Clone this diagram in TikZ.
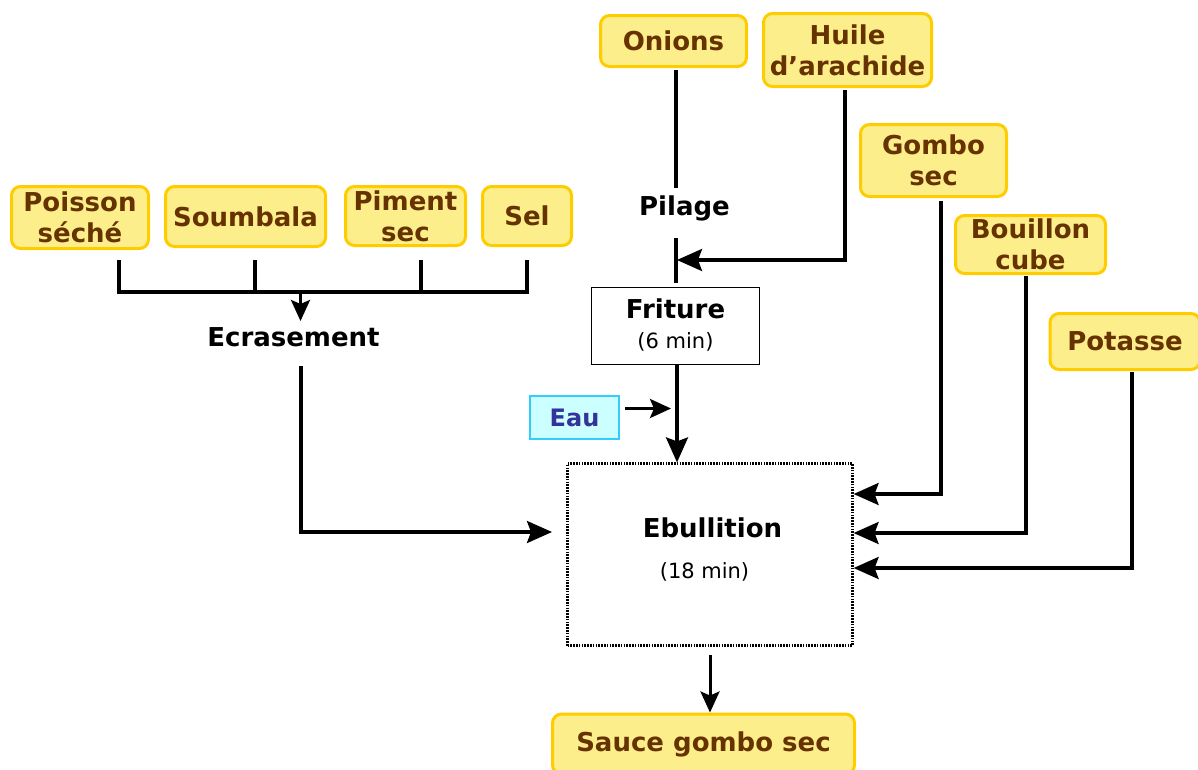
\documentclass[tikz,border=0pt]{standalone}
\usepackage{fontspec}
\setmainfont{DejaVu Sans}
\usetikzlibrary{arrows.meta}
\definecolor{ingfill}{HTML}{FDEE8C}
\definecolor{ingborder}{HTML}{FFCC00}
\definecolor{ingtext}{HTML}{663300}
\definecolor{waterfill}{HTML}{CCFFFF}
\definecolor{waterborder}{HTML}{33CCFF}
\definecolor{watertext}{HTML}{333399}
\begin{document}
\begin{tikzpicture}[x=1pt,y=-1pt,
  ingredient/.style={draw=ingborder, fill=ingfill, line width=3pt, rounded corners=9pt,
    text=ingtext, font=\fontsize{26}{31}\selectfont\bfseries, align=center, inner sep=0pt},
  water/.style={draw=waterborder, fill=waterfill, line width=2.5pt,
    text=watertext, font=\fontsize{24}{28}\selectfont\bfseries, inner sep=0pt},
  stepname/.style={font=\fontsize{26}{31}\selectfont\bfseries, inner sep=0pt},
  steptime/.style={font=\fontsize{21}{25}\selectfont, inner sep=0pt},
  flow/.style={line width=3.2pt},
  arr/.style={flow, -{Stealth[length=25pt,width=22pt,inset=4pt]}},
  smallarr/.style={line width=3pt, -{Stealth[length=21pt,width=19pt,inset=4pt]}}
]
\useasboundingbox (0,0) rectangle (1198,769);

% ingredients
\node[ingredient, minimum width=137, minimum height=62] (poisson) at (80,217.5) {Poisson\\séché};
\node[ingredient, minimum width=160, minimum height=60] (soumbala) at (245.5,216.5) {Soumbala};
\node[ingredient, minimum width=120, minimum height=59] (piment) at (405.5,216) {Piment\\sec};
\node[ingredient, minimum width=89, minimum height=59] (sel) at (527,216) {Sel};
\node[ingredient, minimum width=146, minimum height=51] (onions) at (673.5,41) {Onions};
\node[ingredient, minimum width=168, minimum height=73] (huile) at (847.5,50) {Huile\\d’arachide};
\node[ingredient, minimum width=146, minimum height=72] (gombo) at (933.5,160.5) {Gombo\\sec};
\node[ingredient, minimum width=150, minimum height=58] (bouillon) at (1030.5,244.5) {Bouillon\\cube};
\node[ingredient, minimum width=150, minimum height=56] (potasse) at (1125,341.5) {Potasse};
\node[ingredient, minimum width=302, minimum height=60] (sauce) at (703.5,744) {Sauce gombo sec};
\node[water, minimum width=89, minimum height=43] (eau) at (574.5,417.5) {Eau};

% process steps
\node[stepname] (ecrasement) at (293.5,337) {Ecrasement};
\node[stepname] (pilage) at (684.5,208) {Pilage};
\node[draw, line width=1.5pt, minimum width=168, minimum height=77, inner sep=0pt] (friture) at (675.5,326) {};
\node[stepname] at (675.5,309) {Friture};
\node[steptime] at (675.5,342) {(6 min)};
\node[draw, line width=2.2pt, dash pattern=on 1.6pt off 1.2pt, minimum width=285, minimum height=182, inner sep=0pt] (ebullition) at (710,554.5) {};
\node[stepname] at (712.5,528) {Ebullition};
\node[steptime] at (704.5,572) {(18 min)};

% crushing bracket
\coordinate (bl) at (119,292);
\coordinate (br) at (527,292);
\coordinate (crush) at (300.5,292);
\draw[flow] (119,260) -- (bl) -- (br) -- (527,260);
\draw[flow] (255,260) -- (255,292);
\draw[flow] (421,260) -- (421,292);
\draw[smallarr] (crush) -- (300.5,321);
\draw[arr] (301,366) |- (552,532);

% onions, pilage, frying
\draw[flow] (676,70) -- (676,188);
\draw[flow] (676,238) -- (676,283);
\draw[arr] (845,90) |- (677,260);
\draw[arr] (friture.south -| 677,0) -- (ebullition.north -| 677,0);
\draw[smallarr] (625,408.5) -- (671,408.5);

% additions to boiling
\draw[arr] (941,201) |- (ebullition.east |- 0,494);
\draw[arr] (1026,276) |- (ebullition.east |- 0,533);
\draw[arr] (1132,372) |- (ebullition.east |- 0,568);

% output
\draw[smallarr] (710,655) -- (sauce.north -| 710,0);
\end{tikzpicture}
\end{document}
